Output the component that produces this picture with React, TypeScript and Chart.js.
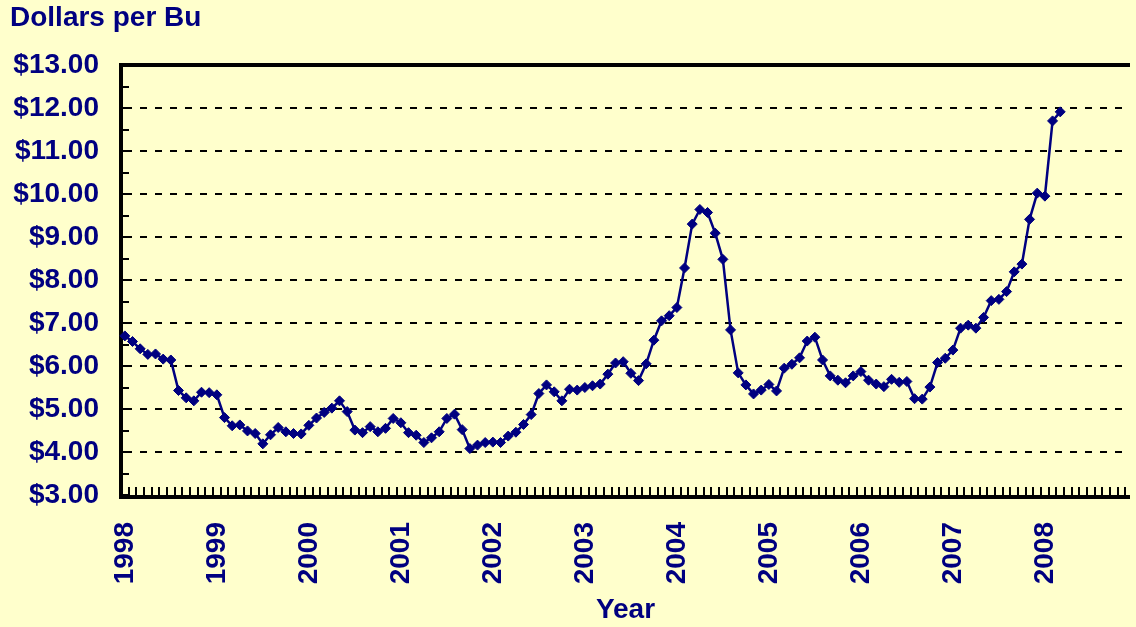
import React, { useEffect, useRef } from "react";
import { Chart, registerables } from "chart.js";

Chart.register(...registerables);

// Monthly price, Jan 1998 .. Mar 2008 (dollars per bushel)
const startYear = 1998;
const priceValues: number[] = [
  6.70, 6.57, 6.40, 6.27, 6.28, 6.16, 6.14, 5.43, 5.26, 5.19, 5.39, 5.38,
  5.33, 4.80, 4.61, 4.63, 4.49, 4.43, 4.19, 4.40, 4.57, 4.47, 4.43, 4.42,
  4.62, 4.79, 4.92, 5.02, 5.19, 4.94, 4.51, 4.45, 4.59, 4.47, 4.55, 4.78,
  4.68, 4.45, 4.39, 4.22, 4.33, 4.47, 4.78, 4.88, 4.52, 4.08, 4.16, 4.22,
  4.23, 4.22, 4.37, 4.46, 4.64, 4.87, 5.36, 5.56, 5.40, 5.19, 5.46, 5.44,
  5.50, 5.54, 5.58, 5.81, 6.07, 6.10, 5.83, 5.66, 6.05, 6.60, 7.05, 7.17,
  7.36, 8.28, 9.30, 9.64, 9.57, 9.09, 8.48, 6.84, 5.84, 5.56, 5.35, 5.44,
  5.57, 5.42, 5.95, 6.04, 6.19, 6.58, 6.67, 6.14, 5.77, 5.67, 5.61, 5.77,
  5.87, 5.67, 5.58, 5.52, 5.69, 5.62, 5.64, 5.24, 5.23, 5.51, 6.08, 6.18,
  6.37, 6.88, 6.95, 6.88, 7.13, 7.52, 7.55, 7.73, 8.19, 8.37, 9.41, 10.02,
  9.95, 11.70, 11.91,
];
const yearLabels: number[] = [1998, 1999, 2000, 2001, 2002, 2003, 2004, 2005, 2006, 2007, 2008];
const yTickValues: number[] = [3, 4, 5, 6, 7, 8, 9, 10, 11, 12, 13];

const NAVY = "#000080";
const BG = "#FFFFCC";
const FONT = "'Liberation Sans', Arial, sans-serif";

const framePlugin = {
  id: "frame",
  beforeDraw(chart: any) {
    const { ctx, width, height } = chart;
    ctx.save();
    ctx.fillStyle = BG;
    ctx.fillRect(0, 0, width, height);
    ctx.restore();
  },
  beforeDatasetsDraw(chart: any) {
    const { ctx, chartArea, scales } = chart;
    const { left, right, top, bottom } = chartArea;
    const xs = scales.x;
    const ys = scales.y;
    ctx.save();
    // dashed gridlines
    ctx.strokeStyle = "#000";
    ctx.lineWidth = 2;
    ctx.setLineDash([7, 8]);
    for (const v of yTickValues) {
      if (v === ys.min || v === ys.max) continue;
      const y = Math.round(ys.getPixelForValue(v));
      ctx.beginPath();
      ctx.moveTo(left + 4, y);
      ctx.lineTo(right, y);
      ctx.stroke();
    }
    ctx.setLineDash([]);
    // minor ticks on y (every 0.5) pointing inward
    for (let v = ys.min; v <= ys.max; v += 0.5) {
      const y = Math.round(ys.getPixelForValue(v));
      ctx.beginPath();
      ctx.moveTo(left, y);
      ctx.lineTo(left + 8, y);
      ctx.stroke();
    }
    // monthly ticks on x pointing inward
    for (let m = 0; m <= Math.floor(xs.max); m++) {
      const x = Math.round(xs.getPixelForValue(m));
      ctx.beginPath();
      ctx.moveTo(x, bottom);
      ctx.lineTo(x, bottom - 8);
      ctx.stroke();
    }
    // frame
    ctx.lineWidth = 4;
    ctx.beginPath();
    ctx.moveTo(left, top);
    ctx.lineTo(right, top);
    ctx.stroke();
    ctx.beginPath();
    ctx.moveTo(left, top - 2);
    ctx.lineTo(left, bottom + 2);
    ctx.lineTo(right, bottom + 2);
    ctx.stroke();
    ctx.restore();
  },
};

export default function App() {
  const canvasRef = useRef<HTMLCanvasElement | null>(null);

  useEffect(() => {
    document.body.style.margin = "0";
    document.body.style.background = BG;
    const canvas = canvasRef.current;
    if (!canvas) return;
    const points = priceValues.map((v, i) => ({ x: i + 0.5, y: v }));
    const yearTicks = yearLabels.map((yr) => (yr - startYear) * 12);
    const font = { family: FONT, size: 28, weight: "bold" as const };

    const chart = new Chart(canvas, {
      type: "line",
      data: {
        datasets: [
          {
            data: points,
            borderColor: NAVY,
            backgroundColor: NAVY,
            borderWidth: 2.5,
            pointStyle: "rectRot",
            pointRadius: 5,
            pointBorderWidth: 1,
            pointBorderColor: NAVY,
            pointBackgroundColor: NAVY,
            tension: 0,
            clip: 8,
          },
        ],
      },
      plugins: [framePlugin],
      options: {
        animation: false,
        responsive: false,
        maintainAspectRatio: false,
        layout: { padding: { left: 10, right: 0, top: 0, bottom: 0 } },
        plugins: {
          legend: { display: false },
          tooltip: { enabled: false },
          title: {
            display: true,
            text: "Dollars per Bu",
            align: "start",
            color: NAVY,
            font,
            padding: { top: 1, bottom: 30.4 },
          },
        },
        scales: {
          x: {
            type: "linear",
            min: 0,
            max: 131.6,
            afterBuildTicks: (s: any) => {
              s.ticks = yearTicks.map((v) => ({ value: v }));
            },
            afterFit: (s: any) => {
              s.height = 132;
            },
            ticks: {
              autoSkip: false,
              maxRotation: 90,
              minRotation: 90,
              padding: 19,
              labelOffset: 4,
              color: NAVY,
              font,
              callback: (v: any) => String(startYear + Number(v) / 12),
            },
            grid: { display: false },
            border: { display: false },
            title: {
              display: true,
              text: "Year",
              color: NAVY,
              font,
              padding: { top: 0, bottom: 0 },
            },
          },
          y: {
            min: 3,
            max: 13,
            afterBuildTicks: (s: any) => {
              s.ticks = yTickValues.map((v) => ({ value: v }));
            },
            afterFit: (s: any) => {
              s.width = 111;
            },
            ticks: {
              padding: 14,
              color: NAVY,
              font,
              callback: (v: any) => "$" + Number(v).toFixed(2),
            },
            grid: { display: false },
            border: { display: false },
          },
        },
      },
    });
    return () => chart.destroy();
  }, []);

  return (
    <div style={{ width: 1136, height: 627, background: BG }}>
      <canvas ref={canvasRef} width={1136} height={627} style={{ display: "block" }} />
    </div>
  );
}
